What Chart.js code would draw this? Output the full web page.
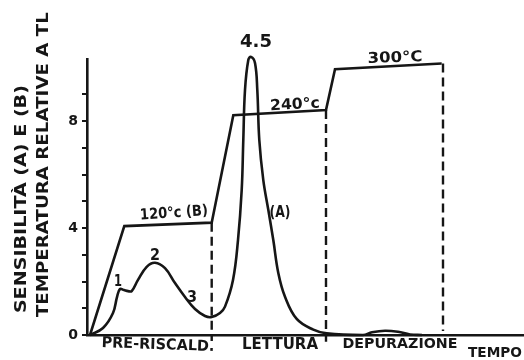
<!DOCTYPE html>
<html>
<head>
<meta charset="utf-8">
<script src="https://cdn.jsdelivr.net/npm/chart.js@4"></script>
<style>
html,body{margin:0;padding:0;background:#fff;}
#c{display:block;}
</style>
</head>
<body>
<canvas id="c" width="524" height="360"></canvas>
<script>
// ---- data ----
// curve (B): temperature programme
const tempX = [0.3, 3.73, 12.47, 14.63, 23.9, 24.8, 35.47];
const tempY = [0, 4.07, 4.2, 8.22, 8.41, 9.94, 10.15];
// curve (A): glow curve / sensitivity
const glowX = [0.3, 1.6, 2.6, 3.0, 3.3, 3.7, 4.1, 4.47, 5.1, 5.97, 6.8, 7.8, 8.8, 9.8, 10.8, 11.8, 12.47, 13.3, 13.8, 14.6, 15.1, 15.47, 15.63, 15.8, 16.13, 16.4, 16.8, 17.03, 17.23, 17.63, 18.13, 18.63, 19.13, 19.8, 20.97, 22.63, 23.97, 27.6, 28.5, 29.8, 31.1, 32.3, 33.5];
const glowY = [0, 0.26, 0.82, 1.42, 1.72, 1.68, 1.64, 1.64, 2.06, 2.55, 2.70, 2.50, 1.94, 1.42, 0.97, 0.71, 0.67, 0.82, 1.06, 2.06, 3.55, 5.42, 7.29, 9.16, 10.28, 10.40, 10.17, 9.16, 7.29, 5.79, 4.68, 3.55, 2.32, 1.43, 0.6, 0.2, 0.06, 0, 0.1, 0.16, 0.12, 0.02, 0];
// phase boundaries (dashed verticals)
const dividerX = [12.47, 23.9, 35.6];
const dividerTop = [4.2, 8.41, 10.15];
const dividerBottom = [-0.22, -0.25, 0.15];
// y tick labels shown
const yTickLabels = [0, 4, 8];
// annotation texts
const yTitle1 = "SENSIBILITÀ (A) E (B)";
const yTitle2 = "TEMPERATURA RELATIVE A TL";
const phaseLabels = ["PRE-RISCALD.", "LETTURA", "DEPURAZIONE"];
const tempLabels = ["120°c (B)", "240°c", "300°C"];
const peakLabels = ["1", "2", "3", "4.5"];
const curveLabel = "(A)";
const xTitle = "TEMPO";

const INK = '#161616';
const pts = (xs, ys) => xs.map((x, i) => ({x, y: ys[i]}));

const dividerSets = dividerX.map((x, i) => ({
  data: [{x, y: dividerTop[i]}, {x, y: dividerBottom[i]}],
  borderColor: INK, borderWidth: 2.4, borderDash: [9, 5], pointRadius: 0, clip: false
}));

// text annotations: [text, dataX, dataY, targetWidth(px), fontSize, rotationDeg]
const notes = [
  [tempLabels[0], 8.7, 4.55, 68, 15, -4],
  [tempLabels[1], 20.8, 8.6, 50, 15, -3],
  [tempLabels[2], 30.8, 10.35, 55, 15, -2],
  [peakLabels[0], 3.1, 2.0, 8, 16, 0],
  [peakLabels[1], 6.8, 2.95, 10, 16, 0],
  [peakLabels[2], 10.5, 1.4, 10, 16, 0],
  [peakLabels[3], 16.9, 10.95, 32, 17, 0],
  [curveLabel, 19.3, 4.55, 21, 15, 0],
  [phaseLabels[0], 7.1, -0.38, 113, 15, 2],
  [phaseLabels[1], 19.3, -0.38, 76, 15, 0],
  [phaseLabels[2], 31.3, -0.36, 115, 14, 0],
  [xTitle, 40.8, -0.67, 54, 14, 0]
];

function drawText(ctx, text, px, py, w, size, rot, weight) {
  ctx.save();
  ctx.font = (weight || 'bold') + ' ' + size + 'px "DejaVu Sans", sans-serif';
  const m = ctx.measureText(text).width;
  ctx.translate(px, py);
  ctx.rotate(rot * Math.PI / 180);
  ctx.scale(w / m, 1);
  ctx.textAlign = 'center';
  ctx.textBaseline = 'middle';
  ctx.fillStyle = INK;
  ctx.fillText(text, 0, 0);
  ctx.restore();
}

const textPlugin = {
  id: 'handText',
  afterDraw(chart) {
    const {ctx, scales: {x, y}, chartArea} = chart;
    notes.forEach(n => drawText(ctx, n[0], x.getPixelForValue(n[1]), y.getPixelForValue(n[2]), n[3], n[4], n[5]));
    // rotated y-axis titles
    drawText(ctx, yTitle1, chartArea.left - 65, y.getPixelForValue(5.08), 228, 15, -90);
    drawText(ctx, yTitle2, chartArea.left - 43, y.getPixelForValue(6.37), 305, 15, -90);
  }
};

new Chart(document.getElementById('c'), {
  type: 'line',
  data: {
    datasets: [
      {data: pts(tempX, tempY), borderColor: INK, borderWidth: 2.6, pointRadius: 0, tension: 0, clip: false},
      {data: pts(glowX, glowY), borderColor: INK, borderWidth: 2.6, pointRadius: 0, tension: 0.4, clip: false},
      ...dividerSets
    ]
  },
  options: {
    responsive: false,
    animation: false,
    layout: {padding: {top: 59.5, right: 0, bottom: 0, left: 0}},
    plugins: {legend: {display: false}, tooltip: {enabled: false}},
    scales: {
      x: {
        type: 'linear', min: 0, max: 43.7,
        ticks: {display: false},
        grid: {display: true, drawOnChartArea: false, drawTicks: false},
        border: {display: true, color: INK, width: 2.4},
        afterFit: s => { s.height = 25; }
      },
      y: {
        type: 'linear', min: 0, max: 10.3,
        ticks: {
          stepSize: 1, color: INK, padding: 4,
          font: {family: '"DejaVu Sans", sans-serif', size: 14, weight: 'bold'},
          callback: v => yTickLabels.includes(v) ? String(v) : ''
        },
        afterBuildTicks: s => { s.ticks = s.ticks.filter(t => Number.isInteger(t.value)); },
        grid: {display: true, drawOnChartArea: false, drawTicks: true, tickLength: 5, color: INK, lineWidth: 2},
        border: {display: true, color: INK, width: 2.6},
        afterFit: s => { s.width = 87; }
      }
    }
  },
  plugins: [textPlugin]
});
</script>
</body>
</html>
